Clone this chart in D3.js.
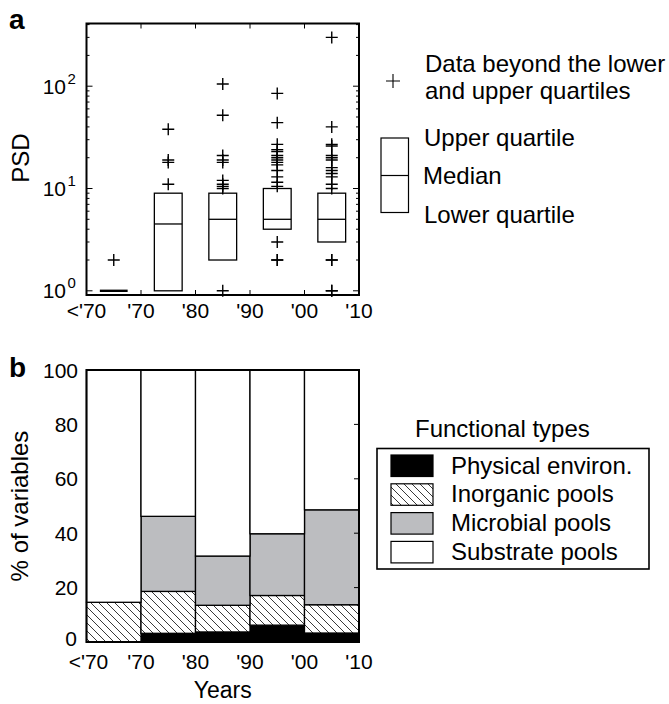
<!DOCTYPE html>
<html>
<head>
<meta charset="utf-8">
<script src="https://cdn.jsdelivr.net/npm/d3@7"></script>
<style>
  html, body { margin: 0; padding: 0; background: #fff; }
  svg { display: block; font-family: "Liberation Sans", Arial, Helvetica, sans-serif; }
</style>
</head>
<body>
<svg id="fig" width="669" height="704"></svg>
<script>
// Decade boundaries shared by both panels
const decadeTicks = ["<'70", "'70", "'80", "'90", "'00", "'10"];

// Panel a: PSD box plots per period
const boxLower  = [1, 1, 2, 4, 3];
const boxMedian = [1, 4.5, 5, 5, 5];
const boxUpper  = [1, 9, 9, 10, 9];
const boxOutliers = [
  [2],
  [38, 19, 18, 11],
  [105, 52, 21, 19, 18, 12, 11, 10.5, 10, 1],
  [85, 44, 27, 24, 23, 21, 20, 19, 18, 17, 15, 13, 11.5, 10.5, 3, 2, 2],
  [300, 40, 27, 26, 21, 20, 19, 16, 15, 14, 13, 11, 10, 2, 2, 1, 1]
];

// Panel b: share of variables by functional type (%)
const typeNames = ["Physical environ.", "Inorganic pools", "Microbial pools", "Substrate pools"];
const physical  = [0, 3.2, 3.7, 6.2, 3.3];
const inorganic = [14.6, 15.4, 9.8, 10.9, 10.4];
const microbial = [0, 27.6, 18.1, 22.7, 34.9];
const substrate = [85.4, 53.8, 68.4, 60.2, 51.4];
const pctTicks = [0, 20, 40, 60, 80, 100];

const svg = d3.select("#fig");
const FS_TICK = 21, FS_TITLE = 24, FS_LEG = 24;

// hatch pattern for inorganic pools
const defs = svg.append("defs");
const pat = defs.append("pattern").attr("id", "hatch")
  .attr("patternUnits", "userSpaceOnUse").attr("width", 8).attr("height", 8);
pat.append("rect").attr("width", 8).attr("height", 8).attr("fill", "#fff");
pat.append("path").attr("d", "M0,0L8,8M-2,6L2,10M6,-2L10,2")
  .attr("stroke", "#222").attr("stroke-width", 0.9);

const fills = ["#000", "url(#hatch)", "#bcbdc0", "#fff"];

// ---------- panel a ----------
const L = 86.5, R = 359;
const aTop = 23.5, aBot = 295;
const xA = d3.scaleLinear().domain([0, 5]).range([L, R]);
const yA = d3.scaleLog().domain([0.91, 410]).range([aBot, aTop]);
const gA = svg.append("g");

// ticks on all four sides (inward)
const logTicks = yA.ticks().filter(v => v >= 1);
logTicks.forEach(v => {
  const major = Math.abs(Math.log10(v) - Math.round(Math.log10(v))) < 1e-9;
  const len = major ? 6 : 3;
  const y = yA(v);
  gA.append("line").attr("x1", L).attr("x2", L + len).attr("y1", y).attr("y2", y)
    .attr("stroke", "#000").attr("stroke-width", 1);
  gA.append("line").attr("x1", R).attr("x2", R - len).attr("y1", y).attr("y2", y)
    .attr("stroke", "#000").attr("stroke-width", 1);
});
decadeTicks.forEach((t, i) => {
  const x = xA(i);
  gA.append("line").attr("x1", x).attr("x2", x).attr("y1", aTop).attr("y2", aTop + 5)
    .attr("stroke", "#000").attr("stroke-width", 1);
  gA.append("line").attr("x1", x).attr("x2", x).attr("y1", aBot).attr("y2", aBot - 5)
    .attr("stroke", "#000").attr("stroke-width", 1);
  gA.append("text").attr("x", x).attr("y", aBot + 23).attr("text-anchor", "middle")
    .attr("font-size", FS_TICK).text(t);
});

// y tick labels 10^k
[1, 10, 100].forEach((v, k) => {
  const y = yA(v);
  gA.append("text").attr("x", 66).attr("y", y + 7.5).attr("text-anchor", "end")
    .attr("font-size", FS_TICK).text("10");
  gA.append("text").attr("x", 67.5).attr("y", y - 2.5).attr("text-anchor", "start")
    .attr("font-size", 15).text(k);
});

// boxes
const bw = (xA(1) - xA(0)) * 0.51;
boxMedian.forEach((m, i) => {
  const cx = xA(i + 0.5);
  const g = gA.append("g");
  const y1 = yA(boxUpper[i]), y0 = yA(boxLower[i]);
  if (boxUpper[i] === boxLower[i]) {
    g.append("line").attr("x1", cx - bw / 2).attr("x2", cx + bw / 2)
      .attr("y1", y0).attr("y2", y0).attr("stroke", "#000").attr("stroke-width", 2.4);
  } else {
    g.append("rect").attr("x", cx - bw / 2).attr("y", y1).attr("width", bw).attr("height", y0 - y1)
      .attr("fill", "none").attr("stroke", "#000").attr("stroke-width", 1.3);
    g.append("line").attr("x1", cx - bw / 2).attr("x2", cx + bw / 2)
      .attr("y1", yA(m)).attr("y2", yA(m)).attr("stroke", "#000").attr("stroke-width", 1.3);
  }
  boxOutliers[i].forEach(v => {
    const y = yA(v);
    g.append("path").attr("d", `M${cx - 6},${y}H${cx + 6}M${cx},${y - 6}V${y + 6}`)
      .attr("stroke", "#000").attr("stroke-width", 1.4).attr("fill", "none");
  });
});

// frame
gA.append("rect").attr("x", L).attr("y", aTop).attr("width", R - L).attr("height", aBot - aTop)
  .attr("fill", "none").attr("stroke", "#000").attr("stroke-width", 2);

gA.append("text").attr("transform", `translate(29,158) rotate(-90)`)
  .attr("text-anchor", "middle").attr("font-size", FS_TITLE).text("PSD");
gA.append("text").attr("x", 9).attr("y", 29).attr("font-size", 28)
  .attr("font-weight", "bold").text("a");

// legend a
const lg = svg.append("g");
lg.append("path").attr("d", "M386,81H400M393,74V88").attr("stroke", "#000").attr("stroke-width", 1.1);
lg.append("text").attr("x", 425).attr("y", 72).attr("font-size", FS_LEG).text("Data beyond the lower");
lg.append("text").attr("x", 425).attr("y", 99).attr("font-size", FS_LEG).text("and upper quartiles");
lg.append("rect").attr("x", 381).attr("y", 138).attr("width", 27.5).attr("height", 74.5)
  .attr("fill", "none").attr("stroke", "#000").attr("stroke-width", 1.2);
lg.append("line").attr("x1", 381).attr("x2", 408.5).attr("y1", 175.5).attr("y2", 175.5)
  .attr("stroke", "#000").attr("stroke-width", 1.2);
lg.append("text").attr("x", 424).attr("y", 146).attr("font-size", FS_LEG).text("Upper quartile");
lg.append("text").attr("x", 423).attr("y", 184).attr("font-size", FS_LEG).text("Median");
lg.append("text").attr("x", 424).attr("y", 223).attr("font-size", FS_LEG).text("Lower quartile");

// ---------- panel b ----------
const bTop = 370, bBot = 642;
const xB = d3.scaleLinear().domain([0, 5]).range([L, R]);
const yB = d3.scaleLinear().domain([0, 100]).range([bBot, bTop]);
const gB = svg.append("g");

const rows = physical.map((d, i) => ({
  i, p: physical[i], n: inorganic[i], m: microbial[i], s: substrate[i]
}));
const stack = d3.stack().keys(["p", "n", "m", "s"])(rows);
stack.forEach((layer, k) => {
  gB.selectAll(null).data(layer.filter(d => d[1] - d[0] > 0)).enter().append("rect")
    .attr("x", d => xB(d.data.i))
    .attr("width", d => xB(d.data.i + 1) - xB(d.data.i))
    .attr("y", d => yB(d[1]))
    .attr("height", d => yB(d[0]) - yB(d[1]))
    .attr("fill", fills[k])
    .attr("stroke", "#000").attr("stroke-width", 1.3);
});

// right-side ticks
pctTicks.forEach(v => {
  const y = yB(v);
  gB.append("line").attr("x1", R).attr("x2", R - 5).attr("y1", y).attr("y2", y)
    .attr("stroke", "#000").attr("stroke-width", 1);
  gB.append("text").attr("x", v === 0 ? 77 : 78).attr("y", y).attr("dy", v === 0 ? "0.18em" : "0.36em")
    .attr("text-anchor", "end").attr("font-size", FS_TICK).text(v);
});
decadeTicks.forEach((t, i) => {
  gB.append("text").attr("x", xB(i) + (i === 0 ? 2 : 0)).attr("y", bBot + 27).attr("text-anchor", "middle")
    .attr("font-size", FS_TICK).text(t);
});

gB.append("rect").attr("x", L).attr("y", bTop).attr("width", R - L).attr("height", bBot - bTop)
  .attr("fill", "none").attr("stroke", "#000").attr("stroke-width", 2);

gB.append("text").attr("transform", `translate(28,506) rotate(-90)`)
  .attr("text-anchor", "middle").attr("font-size", FS_TITLE).text("% of variables");
gB.append("text").attr("x", (L + R) / 2).attr("y", 698).attr("text-anchor", "middle")
  .attr("font-size", 23).text("Years");
gB.append("text").attr("x", 9).attr("y", 377).attr("font-size", 28)
  .attr("font-weight", "bold").text("b");

// legend b
const lb = svg.append("g");
lb.append("text").attr("x", 415).attr("y", 437).attr("font-size", FS_LEG).text("Functional types");
lb.append("rect").attr("x", 377).attr("y", 448.5).attr("width", 272).attr("height", 120.5)
  .attr("fill", "#fff").attr("stroke", "#000").attr("stroke-width", 1.6);
typeNames.forEach((name, k) => {
  const y = 455 + k * 28.8;
  lb.append("rect").attr("x", 391).attr("y", y).attr("width", 42).attr("height", 21.5)
    .attr("fill", fills[k]).attr("stroke", "#000").attr("stroke-width", 1.2);
  lb.append("text").attr("x", 451).attr("y", y + 18.5).attr("font-size", FS_LEG).text(name);
});
</script>
</body>
</html>
